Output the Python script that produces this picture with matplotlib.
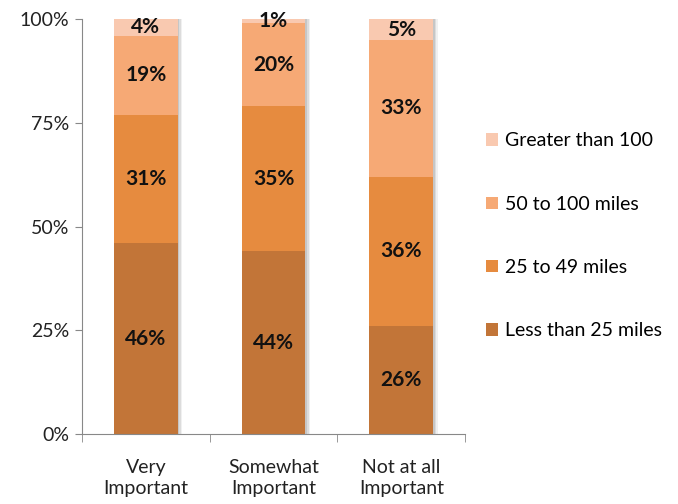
import matplotlib.pyplot as plt
import numpy as np

categories = ['Very\nImportant', 'Somewhat\nImportant', 'Not at all\nImportant']
series = ['Less than 25 miles', '25 to 49 miles', '50 to 100 miles', 'Greater than 100']
less_25 = [46, 44, 26]
m25_49 = [31, 35, 36]
m50_100 = [19, 20, 33]
over_100 = [4, 1, 5]
colors = ['#C27538', '#E68B3F', '#F6A975', '#F9C9B0']

plt.rcParams['font.family'] = ['Lato', 'DejaVu Sans']

fig = plt.figure(figsize=(6.78, 5.04), dpi=100)
ax = fig.add_axes([0.121, 0.139, 0.565, 0.823])

x = np.arange(len(categories))
width = 0.5
bottom = np.zeros(len(categories))
bars = []
for vals, color, name in zip([less_25, m25_49, m50_100, over_100], colors, series):
    vals = np.array(vals)
    # soft shadow on the right side
    for off, a in [(0.012, 0.35), (0.024, 0.25), (0.036, 0.15)]:
        ax.bar(x + off, vals, width, bottom=bottom, color='#a0a0a0', alpha=a,
               linewidth=0, zorder=1)
    b = ax.bar(x, vals, width, bottom=bottom, color=color, label=name, zorder=2)
    bars.append(b)
    for xi, v, bt in zip(x, vals, bottom):
        ax.text(xi, bt + v / 2, f'{v}%', ha='center', va='center', fontsize=15,
                fontweight='bold', color='#111111', zorder=3)
    bottom += vals

ax.set_xlim(-0.5, 2.5)
ax.set_ylim(0, 100)
ax.set_yticks([0, 25, 50, 75, 100])
ax.set_yticklabels(['0%', '25%', '50%', '75%', '100%'], fontsize=14, color='#222222')
ax.set_xticks(x)
ax.set_xticklabels(categories, fontsize=14, color='#222222', linespacing=1.3)
ax.set_xticks([-0.5, 0.5, 1.5, 2.5], minor=True)
ax.tick_params(axis='x', which='major', length=0, pad=18)
ax.tick_params(axis='x', which='minor', length=6, color='#888888')
ax.tick_params(axis='y', length=5, color='#888888', pad=4)
for s in ['top', 'right']:
    ax.spines[s].set_visible(False)
for s in ['left', 'bottom']:
    ax.spines[s].set_color('#888888')

handles = bars[::-1]
fig.legend(handles, series[::-1], loc='upper left', bbox_to_anchor=(0.691, 0.772),
           frameon=False, fontsize=14, labelspacing=2.38, handlelength=0.6,
           handleheight=0.6, handletextpad=0.4)

fig.savefig('out.png', dpi=100)
